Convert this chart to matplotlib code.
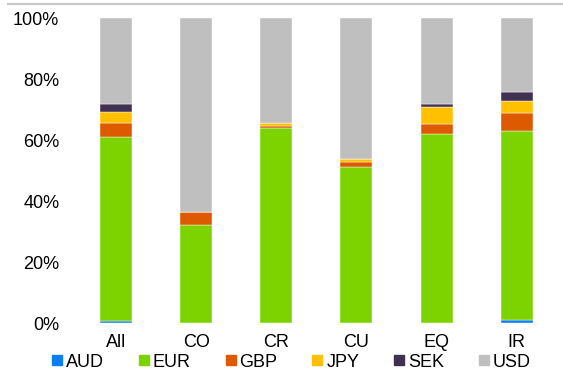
import numpy as np
import matplotlib
matplotlib.use("Agg")
import matplotlib.pyplot as plt
from matplotlib.lines import Line2D

plt.rcParams['font.family'] = ['Liberation Sans', 'DejaVu Sans']

# Categories and currency shares (% of total)
categories = ["All", "CO", "CR", "CU", "EQ", "IR"]
currencies = ["AUD", "EUR", "GBP", "JPY", "SEK", "USD"]
aud = [0.8, 0.0, 0.0, 0.2, 0.2, 1.0]
eur = [60.2, 32.1, 64.0, 50.9, 61.9, 62.0]
gbp = [4.7, 4.3, 0.7, 1.8, 3.2, 6.0]
jpy = [3.4, 0.0, 0.8, 0.9, 5.5, 3.7]
sek = [2.7, 0.0, 0.0, 0.0, 1.2, 3.1]
usd = [28.2, 63.6, 34.5, 46.2, 28.0, 24.2]
yticks = [0, 20, 40, 60, 80, 100]

colors = ["#0A7FF0", "#7DD300", "#DD5A00", "#FFC000", "#403152", "#BFBFBF"]


def main():
    series = [aud, eur, gbp, jpy, sek, usd]
    x = np.arange(len(categories))

    fig = plt.figure(figsize=(5.63, 3.71), dpi=100)
    ax = fig.add_axes([0.135, 0.129, 0.854, 0.822])

    # stacked bars, one layer per currency
    bottom = np.zeros(len(categories))
    for vals, col in zip(series, colors):
        ax.bar(x, vals, width=0.4, bottom=bottom, color=col,
               edgecolor="white", linewidth=0.3)
        bottom += np.array(vals)

    ax.set_xlim(-0.5, len(categories) - 0.5)
    ax.set_ylim(0, 100)
    ax.set_yticks(yticks)
    ax.set_yticklabels([f"{t}%" for t in yticks], fontsize=13)
    ax.set_xticks(x)
    ax.set_xticklabels(categories, fontsize=13)
    ax.tick_params(length=0, pad=12, axis="y")
    ax.tick_params(length=0, pad=8, axis="x")
    for s in ax.spines.values():
        s.set_visible(False)

    handles = [Line2D([], [], marker="s", linestyle="none", markersize=7,
                      markerfacecolor=c, markeredgecolor=c) for c in colors]
    fig.legend(handles, currencies, loc="center", bbox_to_anchor=(0.514, 0.024),
               ncol=6, frameon=False, fontsize=13, handletextpad=0.0,
               columnspacing=1.7, handlelength=1.0, borderpad=0)

    # gray rule along the top edge
    fig.add_artist(Line2D([0.015, 1.0], [0.99, 0.99], color="#C8C8C8",
                          linewidth=1.5, transform=fig.transFigure))

    fig.savefig("out.png", dpi=100)


if __name__ == "__main__":
    main()
